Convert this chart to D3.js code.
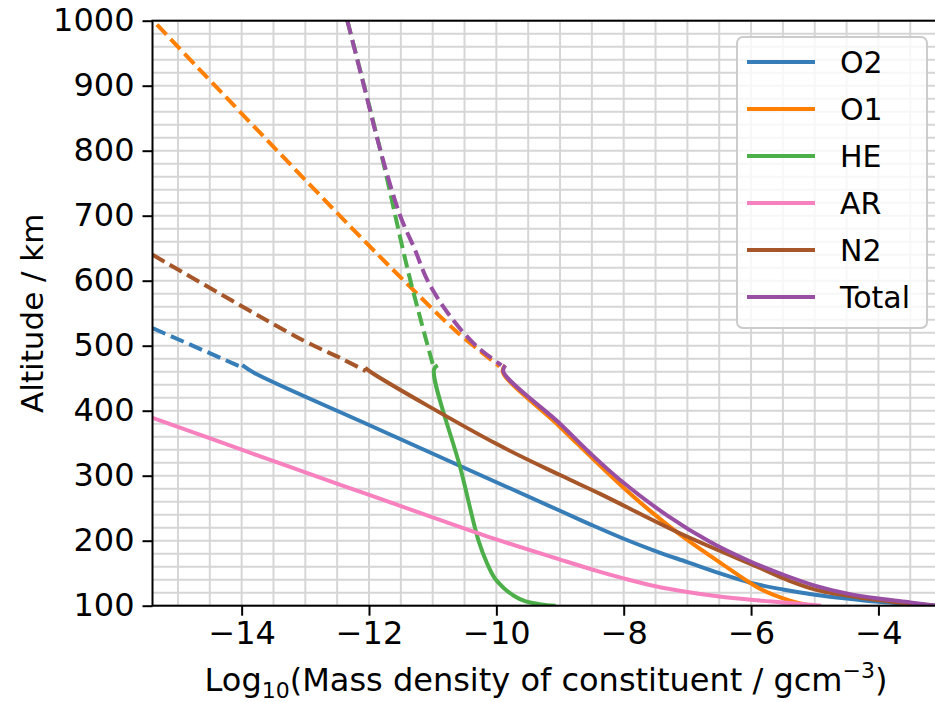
<!DOCTYPE html>
<html>
<head>
<meta charset="utf-8">
<script src="https://cdn.jsdelivr.net/npm/d3@7"></script>
<style>
  body { margin: 0; background: #fff; }
  svg text { font-family: "DejaVu Sans", sans-serif; fill: #000; }
</style>
</head>
<body>
<div id="chart"></div>
<script>
// axis ticks
var xTicks = [-14, -12, -10, -8, -6, -4];
var yTicks = [100, 200, 300, 400, 500, 600, 700, 800, 900, 1000];

var names = ['O2', 'O1', 'HE', 'AR', 'N2', 'Total'];
var colors = ['#377eb8', '#ff7f00', '#4daf4a', '#f781bf', '#a65628', '#984ea3'];

// log10 density (x) and altitude km (y), solid = model range, dash = extrapolated
var o2Val  = [-13.99, -13.80, -12.0, -10.0, -9.0, -8.5, -8.0, -7.5, -7.0, -6.5, -6.0, -5.5, -5.0, -4.5, -4.0, -3.5, -3.1];
var o2Alt  = [470, 458, 378, 290, 246, 224, 203, 184, 167, 150, 135, 125, 117, 111, 106, 102.5, 100];
var o2DashVal = [-15.4, -14.0];
var o2DashAlt = [527, 467];

var o1Val  = [-9.86, -9.90, -9.0, -8.13, -7.6, -7.11, -6.48, -5.86, -5.4, -5.07];
var o1Alt  = [470, 460, 375, 293, 247, 209, 166, 126, 108, 100];
var o1DashVal = [-15.33, -14.7, -12.29, -11.46, -10.64, -9.95];
var o1DashAlt = [994, 929, 683, 601, 523, 468];

var heVal  = [-10.92, -10.98, -10.56, -10.28, -10.15, -10.03, -9.88, -9.72, -9.55, -9.3, -9.07];
var heAlt  = [470, 463, 310, 200, 166, 143, 127, 115, 107, 102, 100];
var heDashVal = [-12.34, -11.82, -11.38, -11.0];
var heDashAlt = [1000, 800, 612, 472];

var arVal  = [-15.4, -14.0, -12.45, -11.0, -10.0, -9.0, -8.37, -8.0, -7.5, -7.0, -6.5, -6.0, -5.5, -5.07, -4.9];
var arAlt  = [389, 340, 286, 236, 202, 171, 152, 142, 130, 121, 114, 109, 105, 101.5, 100];

var n2Val  = [-12.06, -11.95, -10.0, -9.0, -8.37, -7.11, -5.86, -5.44, -4.96, -4.18, -3.6, -3.12];
var n2Alt  = [466, 458, 349, 301, 272, 211, 158, 140, 124, 111, 104, 100];
var n2DashVal = [-15.4, -13.03, -12.45, -12.05];
var n2DashAlt = [640, 508, 481, 461];

var totVal = [-9.86, -9.89, -9.0, -8.53, -8.05, -7.32, -6.64, -6.01, -5.5, -5.0, -4.5, -4.0, -3.5, -3.1];
var totAlt = [470, 460, 380, 335, 293, 239, 198, 168, 148, 131, 119, 111, 105, 100];
var totDashVal = [-12.34, -12.08, -11.82, -11.51, -11.28, -11.08, -10.76, -10.32, -9.92];
var totDashAlt = [1000, 900, 800, 700, 648, 600, 550, 500, 470];

function zip(v, a) { return v.map(function(d, i) { return [d, a[i]]; }); }

var series = [
    {solid: zip(o2Val, o2Alt), dash: zip(o2DashVal, o2DashAlt)},
    {solid: zip(o1Val, o1Alt), dash: zip(o1DashVal, o1DashAlt)},
    {solid: zip(heVal, heAlt), dash: zip(heDashVal, heDashAlt)},
    {solid: zip(arVal, arAlt), dash: []},
    {solid: zip(n2Val, n2Alt), dash: zip(n2DashVal, n2DashAlt)},
    {solid: zip(totVal, totAlt), dash: zip(totDashVal, totDashAlt)}
];

var W = 935, H = 702;
var pL = 152.5, pR = 937, pT = 20.7, pB = 605.7;

var x = d3.scaleLinear().domain([-15.4, -3.08]).range([pL, pR]);
var y = d3.scaleLinear().domain([100, 1000]).range([pB, pT]);

var svg = d3.select('#chart').append('svg')
    .attr('width', W).attr('height', H);

svg.append('defs').append('clipPath').attr('id', 'clip')
    .append('rect').attr('x', pL).attr('y', pT)
    .attr('width', pR - pL).attr('height', pB - pT);

// grid, major and minor
var xMinor = d3.range(-15, -3, 0.5);
var yMinor = d3.range(100, 1001, 20);
var grid = svg.append('g');
grid.selectAll('.gx').data(xMinor).enter().append('line')
    .attr('x1', function(d) { return x(d); }).attr('x2', function(d) { return x(d); })
    .attr('y1', pT).attr('y2', pB)
    .attr('stroke', '#d6d6d6').attr('stroke-width', 2);
grid.selectAll('.gy').data(yMinor).enter().append('line')
    .attr('x1', pL).attr('x2', pR)
    .attr('y1', function(d) { return y(d); }).attr('y2', function(d) { return y(d); })
    .attr('stroke', '#d6d6d6').attr('stroke-width', 2);

var line = d3.line()
    .x(function(d) { return x(d[0]); })
    .y(function(d) { return y(d[1]); })
    .curve(d3.curveCatmullRom.alpha(0.5));

var plot = svg.append('g').attr('clip-path', 'url(#clip)');
series.forEach(function(s, i) {
    plot.append('path')
        .attr('d', line(s.solid))
        .attr('fill', 'none').attr('stroke', colors[i]).attr('stroke-width', 4);
    if (s.dash.length) {
        plot.append('path')
            .attr('d', line(s.dash))
            .attr('fill', 'none').attr('stroke', colors[i]).attr('stroke-width', 4)
            .attr('stroke-dasharray', '14,6');
    }
});

// axes
var xAxis = svg.append('g').attr('transform', 'translate(0,' + pB + ')');
xAxis.call(d3.axisBottom(x).tickValues(xMinor).tickSize(5).tickFormat(''));
xAxis.call(d3.axisBottom(x).tickValues(xTicks).tickSize(10).tickPadding(6)
    .tickFormat(function(d) { return '\u2212' + Math.abs(d); }));

var yAxis = svg.append('g').attr('transform', 'translate(' + pL + ',0)');
yAxis.call(d3.axisLeft(y).tickValues(yMinor).tickSize(5).tickFormat(''));
yAxis.call(d3.axisLeft(y).tickValues(yTicks).tickSize(10).tickPadding(8)
    .tickFormat(d3.format('d')));

svg.selectAll('.domain').remove();
svg.selectAll('.tick line').attr('stroke', '#000').attr('stroke-width', 2);
svg.selectAll('.tick text').style('font-size', '32px');

// spines
svg.append('rect').attr('x', pL).attr('y', pT)
    .attr('width', pR - pL).attr('height', pB - pT)
    .attr('fill', 'none').attr('stroke', '#000').attr('stroke-width', 2);

// axis labels
svg.append('text')
    .attr('transform', 'translate(43,' + ((pT + pB) / 2) + ') rotate(-90)')
    .attr('text-anchor', 'middle').style('font-size', '31px')
    .text('Altitude / km');

var xl = svg.append('text')
    .attr('x', 546).attr('y', 691)
    .attr('text-anchor', 'middle').style('font-size', '32px');
xl.append('tspan').text('Log');
xl.append('tspan').attr('dy', 7).style('font-size', '22px').text('10');
xl.append('tspan').attr('dy', -7).text('(Mass density of constituent / gcm');
xl.append('tspan').attr('dy', -13).style('font-size', '22px').text('\u22123');
xl.append('tspan').attr('dy', 13).text(')');

// legend
var lg = svg.append('g');
lg.append('rect').attr('x', 737).attr('y', 37).attr('width', 190).attr('height', 291)
    .attr('rx', 6).attr('fill', 'rgba(255,255,255,0.8)')
    .attr('stroke', '#cccccc').attr('stroke-width', 2);
names.forEach(function(n, i) {
    var ly = 62 + i * 47;
    lg.append('line').attr('x1', 747).attr('x2', 815).attr('y1', ly).attr('y2', ly)
        .attr('stroke', colors[i]).attr('stroke-width', 4);
    lg.append('text').attr('x', 840).attr('y', ly).attr('dy', '0.36em')
        .style('font-size', '30px').text(n);
});
</script>
</body>
</html>
